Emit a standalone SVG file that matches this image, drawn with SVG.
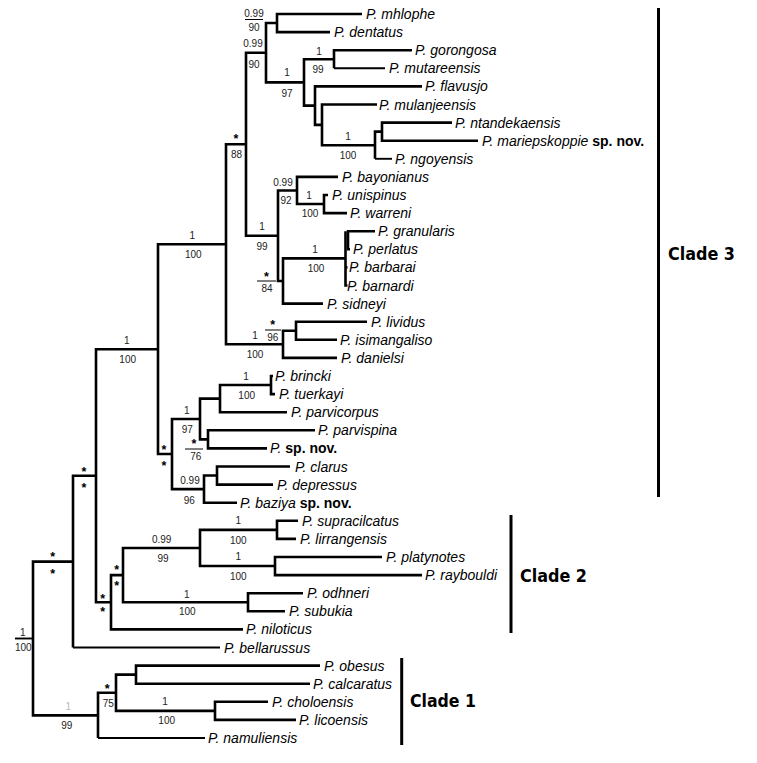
<svg xmlns="http://www.w3.org/2000/svg" width="757" height="763" viewBox="0 0 757 763">
<style>
.br{fill:none;stroke:#000;stroke-width:2.6;stroke-linejoin:miter}
.thin{fill:none;stroke:#000;stroke-width:1.9}
.fr{stroke:#000;stroke-width:1;fill:none}
.bar{stroke:#000;stroke-width:3}
.tx{font-family:"Liberation Sans",Arial,sans-serif;font-size:14px;font-style:italic;fill:#000}
.tx .b{font-style:normal;font-weight:bold}
.sv{font-family:"Liberation Sans",Arial,sans-serif;font-size:10px;fill:#222;text-anchor:middle}
.st{font-family:"Liberation Sans",Arial,sans-serif;font-size:12.5px;font-weight:bold;fill:#000;text-anchor:middle}
.cl{font-family:"DejaVu Sans",sans-serif;font-size:18px;font-weight:bold;fill:#000}
</style>
<rect width="757" height="763" fill="#fff"/>
<g id="connectors">
<path class="thin" d="M15 638.5 H33"/>
<path class="br" d="M73 561.6 H33 V715.4 H98"/>
<path class="br" d="M96 475.7 H73 V647.5"/>
<path class="thin" d="M73 647.5 H220"/>
<path class="br" d="M158 349.2 H96 V602.25 H111"/>
<path class="br" d="M226 244.3 H158 V454.05 H172"/>
<path class="br" d="M246 144.2 H226 V344.3 H283"/>
<path class="br" d="M266 52.7 H246 V235.75 H278"/>
<path class="br" d="M277 23.05 H266 V82.4 H304"/>
<path class="br" d="M362 14 H277 V32.1 H330"/>
<path class="br" d="M334 59.25 H304 V105.6 H315"/>
<path class="br" d="M412 50.2 H334 V68.3"/>
<path class="thin" d="M334 68.3 H385"/>
<path class="br" d="M422 86.4 H315 V124.85 H322"/>
<path class="br" d="M377 104.5 H322 V145.2 H375"/>
<path class="br" d="M382 131.65 H375 V158.8"/>
<path class="thin" d="M375 158.8 H392"/>
<path class="br" d="M452 122.6 H382 V140.7 H478"/>
<path class="br" d="M297 190.5 H278 V281 H283"/>
<path class="br" d="M338 176.9 H297 V204.05 H324"/>
<path class="br" d="M328 195 H324 V213.1 H347"/>
<path class="br" d="M345.5 258.35 H283 V303.6 H323"/>
<path class="br" d="M345.5 231.2 V285.5 H347.5"/>
<path class="br" d="M345.5 267.4 H347.5"/>
<path class="br" d="M375 231.2 H348 V249.3 H350"/>
<path class="br" d="M296 330.75 H283 V357.9 H337"/>
<path class="br" d="M367 321.7 H296 V339.8 H337"/>
<path class="br" d="M200 419 H172 V489.1 H204"/>
<path class="br" d="M220 398.6 H200 V439.35 H208"/>
<path class="br" d="M271 385.05 H220 V412.2 H287"/>
<path class="br" d="M273 376 H271 V394.1 H275"/>
<path class="br" d="M315 430.3 H208 V448.4 H267"/>
<path class="br" d="M217 475.55 H204 V502.7 H237"/>
<path class="br" d="M290 466.5 H217 V484.6 H273"/>
<path class="br" d="M123 575.1 H111 V629.4 H243"/>
<path class="br" d="M200 547.95 H123 V602.25 H248"/>
<path class="br" d="M277 529.85 H200 V566.05 H275"/>
<path class="br" d="M298 520.8 H277 V538.9 H296"/>
<path class="br" d="M382 557 H275 V575.1 H422"/>
<path class="br" d="M303 593.2 H248 V611.3 H285"/>
<path class="br" d="M116 692.75 H98 V738"/>
<path class="thin" d="M98 738 H205"/>
<path class="br" d="M136 674.65 H116 V710.85 H215"/>
<path class="br" d="M320 665.6 H136 V683.7 H310"/>
<path class="br" d="M268 701.8 H215 V719.9 H296"/>
<path class="fr" d="M245 19.5 H263 M257 281 H276 M265 330 H281 M185 449 H203"/>
</g>
<g id="support">
<text class="sv" x="254" y="16.6">0.99</text><text class="sv" x="254" y="30.6">90</text>
<text class="sv" x="253" y="46.6">0.99</text><text class="sv" x="254" y="68.1">90</text>
<text class="sv" x="287" y="76.1">1</text><text class="sv" x="287" y="96.6">97</text>
<text class="sv" x="319" y="55.1">1</text><text class="sv" x="318" y="72.6">99</text>
<text class="sv" x="348" y="139.6">1</text><text class="sv" x="348" y="158.6">100</text>
<text class="st" x="236" y="143">*</text><text class="sv" x="236.5" y="157.9">88</text>
<text class="sv" x="262" y="230.3">1</text><text class="sv" x="262" y="249.6">99</text>
<text class="sv" x="283" y="185.9">0.99</text><text class="sv" x="286" y="204.3">92</text>
<text class="sv" x="309" y="199.3">1</text><text class="sv" x="310" y="216.9">100</text>
<text class="st" x="266.5" y="281">*</text><text class="sv" x="267" y="292.1">84</text>
<text class="sv" x="315" y="252.9">1</text><text class="sv" x="316" y="271.9">100</text>
<text class="sv" x="192.3" y="238.6">1</text><text class="sv" x="193.3" y="257.9">100</text>
<text class="sv" x="255" y="338.6">1</text><text class="sv" x="255" y="357.9">100</text>
<text class="st" x="272.7" y="329">*</text><text class="sv" x="272.7" y="340.6">96</text>
<text class="sv" x="126.7" y="343.6">1</text><text class="sv" x="127.7" y="362.6">100</text>
<text class="st" x="164" y="453.7">*</text><text class="st" x="164" y="470.3">*</text>
<text class="sv" x="186.7" y="413.6">1</text><text class="sv" x="187.3" y="432.9">97</text>
<text class="sv" x="246" y="379.6">1</text><text class="sv" x="246.7" y="398.6">100</text>
<text class="st" x="194" y="448">*</text><text class="sv" x="195.7" y="459.6">76</text>
<text class="sv" x="190" y="483.6">0.99</text><text class="sv" x="189.3" y="503.6">96</text>
<text class="sv" x="161.7" y="542.9">0.99</text><text class="sv" x="163" y="561.9">99</text>
<text class="sv" x="238.3" y="524.3">1</text><text class="sv" x="238.3" y="543.6">100</text>
<text class="sv" x="238.3" y="560.3">1</text><text class="sv" x="238.3" y="579.6">100</text>
<text class="sv" x="186.7" y="597.6">1</text><text class="sv" x="187.3" y="615.3">100</text>
<text class="st" x="116.7" y="573.7">*</text><text class="st" x="116.7" y="589.7">*</text>
<text class="st" x="102.7" y="603">*</text><text class="st" x="102.7" y="616.3">*</text>
<text class="st" x="84" y="476">*</text><text class="st" x="84" y="492">*</text>
<text class="st" x="52.7" y="561.3">*</text><text class="st" x="52.7" y="577.7">*</text>
<text class="sv" x="22.7" y="636.3">1</text><text class="sv" x="23.3" y="650.9">100</text>
<text class="sv" x="68.3" y="709.6" style="fill:#bbb">1</text><text class="sv" x="66.7" y="729.3">99</text>
<text class="st" x="107.3" y="692.7">*</text><text class="sv" x="108.3" y="706.9">75</text>
<text class="sv" x="165" y="705.3">1</text><text class="sv" x="166.7" y="724.3">100</text>
</g>
<g id="taxa">
<g id="t-mhlophe"><text class="tx" x="366" y="19">P. mhlophe</text></g>
<g id="t-dentatus"><text class="tx" x="334" y="37.1">P. dentatus</text></g>
<g id="t-gorongosa"><text class="tx" x="415" y="55.2">P. gorongosa</text></g>
<g id="t-mutareensis"><text class="tx" x="389" y="73.3">P. mutareensis</text></g>
<g id="t-flavusjo"><text class="tx" x="425" y="91.4">P. flavusjo</text></g>
<g id="t-mulanjeensis"><text class="tx" x="379" y="109.5">P. mulanjeensis</text></g>
<g id="t-ntandekaensis"><text class="tx" x="455" y="127.6">P. ntandekaensis</text></g>
<g id="t-mariepskoppie"><text class="tx" x="482" y="145.7">P. mariepskoppie<tspan class="b"> sp. nov.</tspan></text></g>
<g id="t-ngoyensis"><text class="tx" x="395" y="163.8">P. ngoyensis</text></g>
<g id="t-bayonianus"><text class="tx" x="342" y="181.9">P. bayonianus</text></g>
<g id="t-unispinus"><text class="tx" x="332" y="200">P. unispinus</text></g>
<g id="t-warreni"><text class="tx" x="350" y="218.1">P. warreni</text></g>
<g id="t-granularis"><text class="tx" x="378" y="236.2">P. granularis</text></g>
<g id="t-perlatus"><text class="tx" x="353" y="254.3">P. perlatus</text></g>
<g id="t-barbarai"><text class="tx" x="349" y="272.4">P. barbarai</text></g>
<g id="t-barnardi"><text class="tx" x="347" y="290.5">P. barnardi</text></g>
<g id="t-sidneyi"><text class="tx" x="327" y="308.6">P. sidneyi</text></g>
<g id="t-lividus"><text class="tx" x="371" y="326.7">P. lividus</text></g>
<g id="t-isimangaliso"><text class="tx" x="340" y="344.8">P. isimangaliso</text></g>
<g id="t-danielsi"><text class="tx" x="341" y="362.9">P. danielsi</text></g>
<g id="t-brincki"><text class="tx" x="275" y="381">P. brincki</text></g>
<g id="t-tuerkayi"><text class="tx" x="279" y="399.1">P. tuerkayi</text></g>
<g id="t-parvicorpus"><text class="tx" x="291" y="417.2">P. parvicorpus</text></g>
<g id="t-parvispina"><text class="tx" x="318" y="435.3">P. parvispina</text></g>
<g id="t-spnov"><text class="tx" x="270" y="453.4">P.<tspan class="b"> sp. nov.</tspan></text></g>
<g id="t-clarus"><text class="tx" x="295" y="471.5">P. clarus</text></g>
<g id="t-depressus"><text class="tx" x="277" y="489.6">P. depressus</text></g>
<g id="t-baziya"><text class="tx" x="240" y="507.7">P. baziya<tspan class="b"> sp. nov.</tspan></text></g>
<g id="t-supracilcatus"><text class="tx" x="302" y="525.8">P. supracilcatus</text></g>
<g id="t-lirrangensis"><text class="tx" x="300" y="543.9">P. lirrangensis</text></g>
<g id="t-platynotes"><text class="tx" x="386" y="562">P. platynotes</text></g>
<g id="t-raybouldi"><text class="tx" x="425" y="580.1">P. raybouldi</text></g>
<g id="t-odhneri"><text class="tx" x="307" y="598.2">P. odhneri</text></g>
<g id="t-subukia"><text class="tx" x="289" y="616.3">P. subukia</text></g>
<g id="t-niloticus"><text class="tx" x="246" y="634.4">P. niloticus</text></g>
<g id="t-bellarussus"><text class="tx" x="224" y="652.5">P. bellarussus</text></g>
<g id="t-obesus"><text class="tx" x="324" y="670.6">P. obesus</text></g>
<g id="t-calcaratus"><text class="tx" x="313" y="688.7">P. calcaratus</text></g>
<g id="t-choloensis"><text class="tx" x="272" y="706.8">P. choloensis</text></g>
<g id="t-licoensis"><text class="tx" x="299" y="724.9">P. licoensis</text></g>
<g id="t-namuliensis"><text class="tx" x="208" y="743">P. namuliensis</text></g>
</g>
<g id="clade3"><line class="bar" x1="658.5" y1="8" x2="658.5" y2="497"/><text class="cl" x="668" y="259.5" textLength="67" lengthAdjust="spacingAndGlyphs">Clade 3</text></g>
<g id="clade2"><line class="bar" x1="511" y1="515" x2="511" y2="633"/><text class="cl" x="520" y="582" textLength="67" lengthAdjust="spacingAndGlyphs">Clade 2</text></g>
<g id="clade1"><line class="bar" x1="401.7" y1="658" x2="401.7" y2="745"/><text class="cl" x="410" y="707" textLength="66" lengthAdjust="spacingAndGlyphs">Clade 1</text></g>
</svg>
